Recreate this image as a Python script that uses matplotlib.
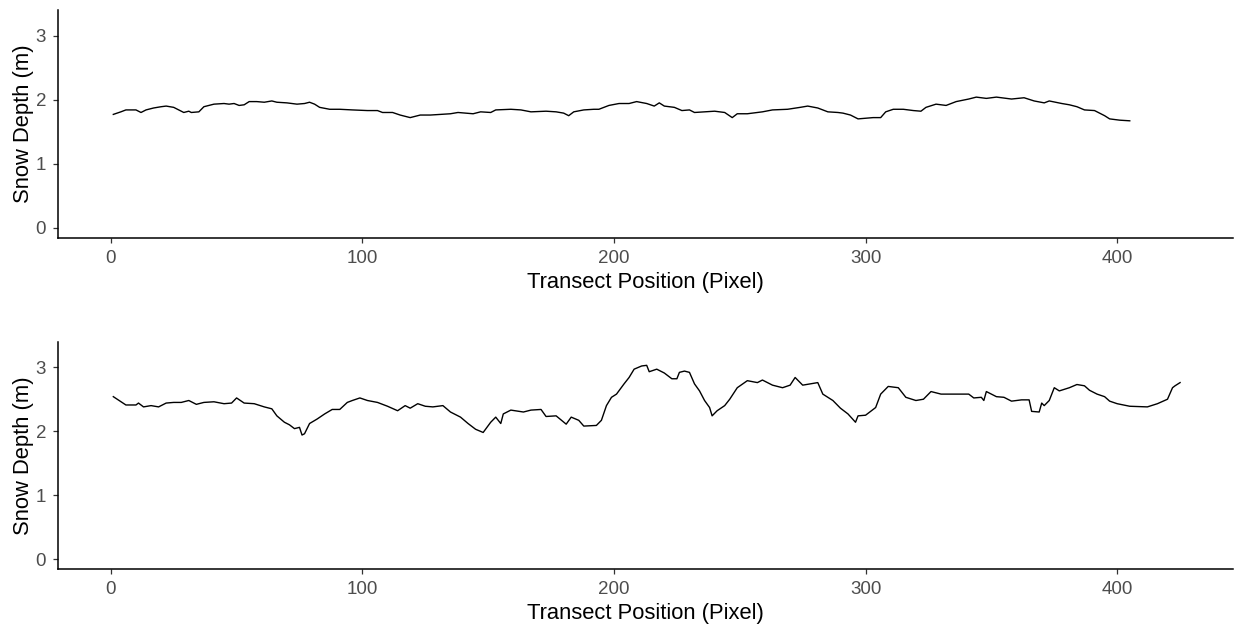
import numpy as np
import matplotlib
matplotlib.use("Agg")
import matplotlib.pyplot as plt

plt.rcParams['font.family'] = ['Liberation Sans', 'DejaVu Sans']

## Transect 1 (top panel)
pos_top = [1, 4, 6, 10, 12, 14, 17, 20, 22, 25, 27, 29, 31, 32, 35, 37, 41, 45, 47, 49,
           51, 53, 55, 58, 61, 64, 66, 70, 74, 77, 79, 81, 83, 87, 91, 96, 102, 106, 108, 112,
           115, 119, 123, 127, 131, 135, 138, 141, 144, 147, 151, 153, 159, 163, 167, 173, 177, 180, 182, 184,
           188, 192, 194, 198, 202, 206, 209, 213, 216, 218, 220, 224, 227, 230, 232, 236, 240, 244, 247, 249,
           253, 257, 259, 263, 269, 274, 277, 281, 285, 289, 291, 294, 297, 300, 303, 306, 308, 311, 315, 319,
           322, 324, 328, 332, 336, 341, 344, 348, 352, 358, 363, 367, 371, 373, 378, 381, 384, 387, 391, 395,
           397, 401, 405]
depth_top = [1.77, 1.81, 1.84, 1.84, 1.80, 1.84, 1.87, 1.89, 1.90, 1.88, 1.84, 1.80, 1.82, 1.80, 1.81, 1.89, 1.93, 1.94, 1.93, 1.94,
             1.91, 1.92, 1.97, 1.97, 1.96, 1.98, 1.96, 1.95, 1.93, 1.94, 1.96, 1.93, 1.88, 1.85, 1.85, 1.84, 1.83, 1.83, 1.80, 1.80,
             1.76, 1.72, 1.76, 1.76, 1.77, 1.78, 1.80, 1.79, 1.78, 1.81, 1.80, 1.84, 1.85, 1.84, 1.81, 1.82, 1.81, 1.79, 1.75, 1.81,
             1.84, 1.85, 1.85, 1.91, 1.94, 1.94, 1.97, 1.94, 1.90, 1.95, 1.90, 1.88, 1.83, 1.84, 1.80, 1.81, 1.82, 1.80, 1.72, 1.78,
             1.78, 1.80, 1.81, 1.84, 1.85, 1.88, 1.90, 1.87, 1.81, 1.80, 1.79, 1.76, 1.70, 1.71, 1.72, 1.72, 1.81, 1.85, 1.85, 1.83,
             1.82, 1.88, 1.93, 1.91, 1.97, 2.01, 2.04, 2.02, 2.04, 2.01, 2.03, 1.98, 1.95, 1.98, 1.94, 1.92, 1.89, 1.84, 1.83, 1.75,
             1.70, 1.68, 1.67]

## Transect 2 (bottom panel)
pos_bot = [1, 6, 10, 11, 13, 16, 19, 22, 25, 28, 31, 34, 37, 41, 45, 48, 50, 53, 57, 61,
           64, 66, 69, 71, 73, 75, 76, 77, 79, 82, 85, 88, 91, 94, 96, 99, 102, 106, 110, 114,
           117, 119, 122, 125, 128, 132, 135, 139, 142, 145, 148, 151, 153, 155, 156, 159, 164, 167, 171, 173,
           177, 181, 183, 186, 188, 193, 195, 197, 199, 201, 204, 206, 208, 211, 213, 214, 217, 220, 223, 225,
           226, 228, 230, 232, 234, 236, 238, 239, 241, 244, 246, 249, 253, 257, 259, 263, 267, 270, 272, 275,
           281, 283, 287, 290, 293, 296, 297, 300, 304, 306, 309, 313, 316, 320, 323, 326, 330, 334, 338, 341,
           343, 346, 347, 348, 352, 355, 358, 362, 365, 366, 369, 370, 371, 373, 375, 377, 381, 384, 387, 389,
           392, 395, 397, 400, 405, 412, 416, 420, 422, 423, 425]
depth_bot = [2.54, 2.41, 2.41, 2.44, 2.38, 2.40, 2.38, 2.44, 2.45, 2.45, 2.48, 2.42, 2.45, 2.46, 2.43, 2.44, 2.52, 2.44, 2.43, 2.38,
             2.35, 2.24, 2.14, 2.10, 2.04, 2.06, 1.94, 1.96, 2.12, 2.19, 2.27, 2.34, 2.34, 2.45, 2.48, 2.52, 2.48, 2.45, 2.39, 2.32,
             2.40, 2.36, 2.43, 2.39, 2.38, 2.40, 2.30, 2.22, 2.12, 2.03, 1.98, 2.14, 2.22, 2.12, 2.27, 2.33, 2.30, 2.33, 2.34, 2.23,
             2.24, 2.11, 2.22, 2.17, 2.08, 2.09, 2.17, 2.40, 2.53, 2.58, 2.74, 2.84, 2.97, 3.02, 3.03, 2.93, 2.97, 2.91, 2.82, 2.82,
             2.92, 2.94, 2.92, 2.74, 2.63, 2.48, 2.37, 2.24, 2.32, 2.40, 2.50, 2.68, 2.79, 2.76, 2.80, 2.72, 2.68, 2.72, 2.84, 2.72,
             2.76, 2.58, 2.48, 2.36, 2.27, 2.14, 2.24, 2.25, 2.37, 2.58, 2.70, 2.68, 2.53, 2.48, 2.50, 2.62, 2.58, 2.58, 2.58, 2.58,
             2.52, 2.53, 2.48, 2.62, 2.54, 2.53, 2.47, 2.49, 2.49, 2.31, 2.30, 2.44, 2.40, 2.48, 2.68, 2.63, 2.68, 2.73, 2.71, 2.64,
             2.58, 2.54, 2.47, 2.43, 2.39, 2.38, 2.43, 2.50, 2.68, 2.71, 2.76]

fig = plt.figure(figsize=(12.36, 6.29), dpi=100)

panels = [
    (pos_top, depth_top, [0.0469, 0.6221, 0.9506, 0.3620]),
    (pos_bot, depth_bot, [0.0469, 0.0954, 0.9506, 0.3614]),
]

for x, y, rect in panels:
    ax = fig.add_axes(rect)
    ax.plot(x, y, color='black', linewidth=1.0)
    ax.set_xlim(-21, 446)
    ax.set_ylim(-0.155, 3.40)
    ax.set_xticks([0, 100, 200, 300, 400])
    ax.set_yticks([0, 1, 2, 3])
    ax.spines['top'].set_visible(False)
    ax.spines['right'].set_visible(False)
    for s in ['left', 'bottom']:
        ax.spines[s].set_linewidth(1.1)
        ax.spines[s].set_color('black')
    ax.tick_params(axis='both', length=3.6, width=0.9, color='#333333',
                   labelcolor='#4D4D4D', labelsize=13.5, pad=5)
    ax.set_xlabel('Transect Position (Pixel)', fontsize=15.8, color='black', labelpad=4)
    ax.set_ylabel('Snow Depth (m)', fontsize=15.8, color='black', labelpad=1)

plt.savefig('out.png', dpi=100)
